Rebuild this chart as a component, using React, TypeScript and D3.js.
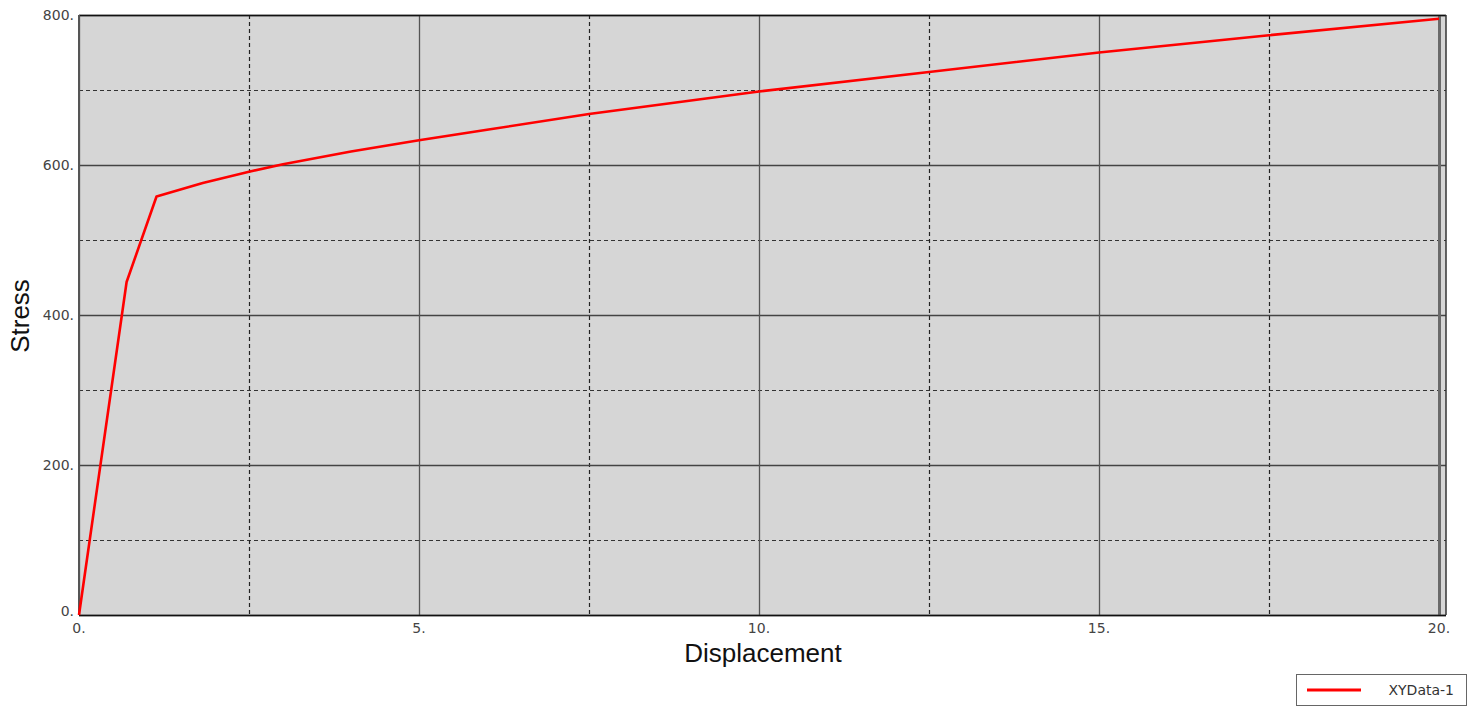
import React from "react";
import * as d3 from "d3";

const displacement = [0, 0.7, 1.14, 1.82, 2.5, 3, 4, 5, 6, 7.5, 10, 12.5, 15, 17.5, 20];
const stress = [0, 444, 558, 576, 591, 601, 618, 633, 647, 668, 698, 724, 750, 773, 795];
const xMajorTicks = [0, 5, 10, 15, 20];
const xMinorTicks = [2.5, 7.5, 12.5, 17.5];
const yMajorTicks = [0, 200, 400, 600, 800];
const yMinorTicks = [100, 300, 500, 700];
const seriesName = "XYData-1";

const W = 1480, H = 707;
const L = 79, R = 1446, T = 15, B = 615;

export default function App() {
  const x = d3.scaleLinear().domain([0, 20]).range([L, L + 1360]);
  const y = d3.scaleLinear().domain([0, 800]).range([B, T]);
  const line = d3.line<number>().x((d, i) => x(displacement[i])).y((d) => y(d));
  const tickFont = "'DejaVu Sans', Verdana, sans-serif";
  return (
    <svg width={W} height={H} style={{ position: "absolute", left: 0, top: 0 }}>
      <rect x={0} y={0} width={W} height={H} fill="#fff" />
      <rect x={L} y={T} width={R - L} height={B - T} fill="#d6d6d6" />
      {yMinorTicks.map((v) => (
        <line key={"ym" + v} x1={L} x2={R} y1={y(v) + 0.5} y2={y(v) + 0.5} stroke="#333" strokeWidth={1.2} strokeDasharray="4,3" />
      ))}
      {xMinorTicks.map((v) => (
        <line key={"xm" + v} x1={Math.round(x(v)) + 0.5} x2={Math.round(x(v)) + 0.5} y1={T} y2={B} stroke="#222" strokeWidth={1.2} strokeDasharray="4,3" />
      ))}
      {yMajorTicks.map((v) => (
        <line key={"yM" + v} x1={L} x2={R} y1={y(v) + 0.5} y2={y(v) + 0.5} stroke="#444" strokeWidth={1.3} />
      ))}
      {xMajorTicks.map((v) => (
        <line key={"xM" + v} x1={Math.round(x(v)) + 0.5} x2={Math.round(x(v)) + 0.5} y1={T} y2={B} stroke={v === 20 ? "#6a6a6a" : "#555"} strokeWidth={v === 20 ? 3 : 1.3} />
      ))}
      <line x1={L} x2={R} y1={T + 0.5} y2={T + 0.5} stroke="#111" strokeWidth={1.5} />
      <line x1={L} x2={R} y1={B + 0.5} y2={B + 0.5} stroke="#111" strokeWidth={1.5} />
      <line x1={L} x2={L} y1={T} y2={B} stroke="#555" strokeWidth={2} />
      <line x1={R} x2={R} y1={T} y2={B} stroke="#333" strokeWidth={1.5} />
      <path d={line(stress) || ""} fill="none" stroke="#ff0000" strokeWidth={2.6} strokeLinejoin="round" />
      {yMajorTicks.map((v) => (
        <text key={"yl" + v} x={L - 5} y={y(v) + (v === 0 ? -4 : 0)} dominantBaseline="central" textAnchor="end" fontFamily={tickFont} fontSize={14} fill="#444">
          {v + "."}
        </text>
      ))}
      {xMajorTicks.map((v) => (
        <text key={"xl" + v} x={x(v)} y={B + 13} dominantBaseline="central" textAnchor="middle" fontFamily={tickFont} fontSize={14} fill="#444">
          {v + "."}
        </text>
      ))}
      <text x={(L + x(20)) / 2 + 4} y={662} textAnchor="middle" fontFamily="'Liberation Sans', Arial, sans-serif" fontSize={26} fill="#111">
        Displacement
      </text>
      <text transform={`translate(29,${(T + B) / 2 + 1}) rotate(-90)`} textAnchor="middle" fontFamily="'Liberation Sans', Arial, sans-serif" fontSize={26} fill="#111">
        Stress
      </text>
      <rect x={1296.5} y={674.5} width={170} height={31} fill="#fff" stroke="#666" strokeWidth={1} />
      <line x1={1307} x2={1361} y1={690} y2={690} stroke="#ff0000" strokeWidth={3} />
      <text x={1454} y={690} textAnchor="end" dominantBaseline="central" fontFamily={tickFont} fontSize={14} fill="#333">
        {seriesName}
      </text>
    </svg>
  );
}
